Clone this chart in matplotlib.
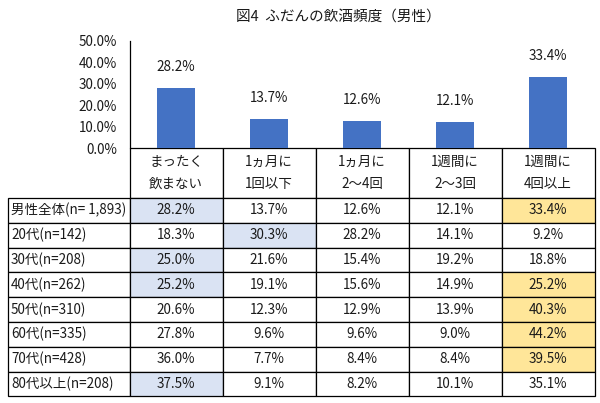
import matplotlib
matplotlib.use("Agg")
import matplotlib.pyplot as plt
from matplotlib.patches import Rectangle

plt.rcParams['font.family'] = ['Noto Sans CJK JP', 'DejaVu Sans']

title = "図4  ふだんの飲酒頻度（男性）"
categories = ["まったく\n飲まない", "1ヵ月に\n1回以下", "1ヵ月に\n2～4回", "1週間に\n2～3回", "1週間に\n4回以上"]
overall = [28.2, 13.7, 12.6, 12.1, 33.4]
row_labels = ["男性全体(n= 1,893)", "20代(n=142)", "30代(n=208)", "40代(n=262)",
              "50代(n=310)", "60代(n=335)", "70代(n=428)", "80代以上(n=208)"]
table_values = [
    [28.2, 13.7, 12.6, 12.1, 33.4],
    [18.3, 30.3, 28.2, 14.1, 9.2],
    [25.0, 21.6, 15.4, 19.2, 18.8],
    [25.2, 19.1, 15.6, 14.9, 25.2],
    [20.6, 12.3, 12.9, 13.9, 40.3],
    [27.8, 9.6, 9.6, 9.0, 44.2],
    [36.0, 7.7, 8.4, 8.4, 39.5],
    [37.5, 9.1, 8.2, 10.1, 35.1],
]
# highlight codes per cell: 'b' = blue, 'y' = yellow, '' = none
highlights = [
    ['b', '', '', '', 'y'],
    ['', 'b', '', '', ''],
    ['b', '', '', '', ''],
    ['b', '', '', '', 'y'],
    ['', '', '', '', 'y'],
    ['', '', '', '', 'y'],
    ['', '', '', '', 'y'],
    ['b', '', '', '', ''],
]
yticks = [0, 10, 20, 30, 40, 50]

W, H = 600, 403
fig = plt.figure(figsize=(W / 100, H / 100), dpi=100)
fig.patch.set_facecolor('white')

# layout in pixels
x_left = 8
x0 = 129.5
col_w = 93.0
n = len(categories)
x_right = x0 + col_w * n
y_axis0 = 148
y_axis50 = 41
header_bottom = 198
row_h = 24.8

tab = fig.add_axes([0, 0, 1, 1])
tab.set_xlim(0, W)
tab.set_ylim(H, 0)
tab.axis('off')

fills = {'b': '#DAE3F3', 'y': '#FFE699'}
fs = 9.7
tc = '#1a1a1a'

for j, cat in enumerate(categories):
    cx = x0 + col_w * j
    tab.add_patch(Rectangle((cx, y_axis0), col_w, header_bottom - y_axis0,
                            facecolor='white', edgecolor='black', lw=0.9))
    l1, l2 = cat.split("\n")
    tab.text(cx + col_w / 2, 162, l1, ha='center', va='center', fontsize=fs, color=tc)
    tab.text(cx + col_w / 2, 184, l2, ha='center', va='center', fontsize=fs, color=tc)

for i, lab in enumerate(row_labels):
    ry = header_bottom + row_h * i
    tab.add_patch(Rectangle((x_left, ry), x0 - x_left, row_h,
                            facecolor='white', edgecolor='black', lw=0.9))
    tab.text(x_left + 3, ry + row_h / 2, lab, ha='left', va='center', fontsize=fs, color=tc)
    for j in range(n):
        cx = x0 + col_w * j
        fc = fills.get(highlights[i][j], 'white')
        tab.add_patch(Rectangle((cx, ry), col_w, row_h,
                                facecolor=fc, edgecolor='black', lw=0.9))
        tab.text(cx + col_w / 2, ry + row_h / 2, f"{table_values[i][j]:.1f}%",
                 ha='center', va='center', fontsize=fs, color=tc)

tab.text(338, 17, title, ha='center', va='center', fontsize=10.5, color=tc)

ax = fig.add_axes([x0 / W, 1 - y_axis0 / H, (x_right - x0) / W, (y_axis0 - y_axis50) / H])
ax.patch.set_alpha(0)
xs = list(range(n))
ax.bar(xs, overall, width=0.4, color='#4472C4')
for x, v in zip(xs, overall):
    ax.text(x, v + 6.5, f"{v:.1f}%", ha='center', va='bottom', fontsize=fs, color=tc)
ax.set_xlim(-0.5, n - 0.5)
ax.set_ylim(0, 50)
ax.set_yticks(yticks)
ax.set_yticklabels([f"{t:.1f}%" for t in yticks], fontsize=fs, color=tc)
ax.tick_params(axis='y', length=0, pad=9)
ax.set_xticks([])
for s in ['top', 'right', 'bottom']:
    ax.spines[s].set_visible(False)
ax.spines['left'].set_color('black')
ax.spines['left'].set_linewidth(0.9)

fig.savefig("out.png", dpi=100, facecolor='white')
